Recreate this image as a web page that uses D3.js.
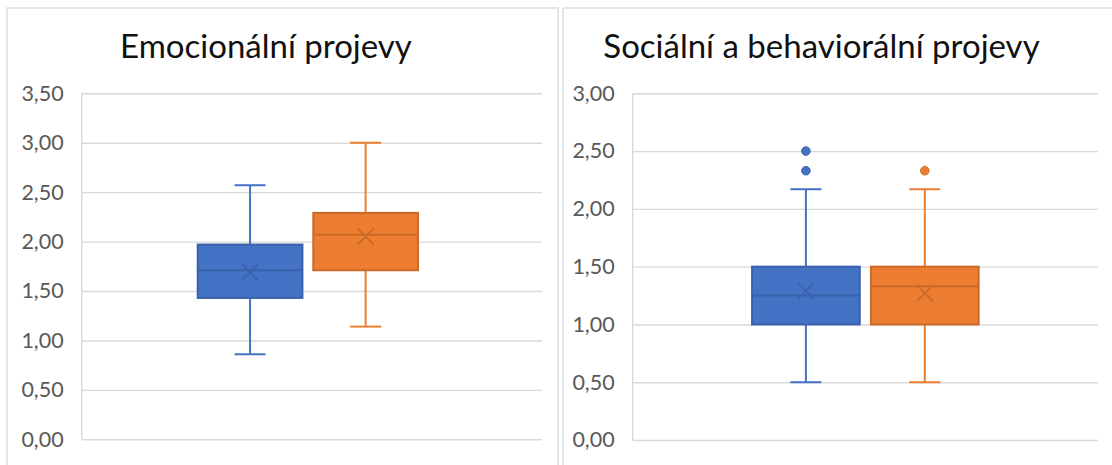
<!DOCTYPE html>
<html>
<head>
<meta charset="utf-8">
<script src="https://cdn.jsdelivr.net/npm/d3@7"></script>
<style>
  html, body { margin: 0; padding: 0; background: #fff; }
  svg { display: block; }
  text { font-family: Lato, "Noto Sans", sans-serif; }
</style>
</head>
<body>
<svg id="chart" width="1112" height="465"></svg>
<script>
// Two groups compared in each panel
const seriesKeys = ["A", "B"];
const seriesFill = ["#4472C4", "#ED7D31"];
const seriesDark = ["#3A62AB", "#C96A29"];

// Panel 1: Emocionální projevy
const emoTitle = "Emocionální projevy";
const emoTicks = [0, 0.5, 1, 1.5, 2, 2.5, 3, 3.5];
const emoMin = [0.86, 1.14];
const emoQ1 = [1.43, 1.71];
const emoMedian = [1.71, 2.07];
const emoQ3 = [1.97, 2.29];
const emoMax = [2.57, 3.00];
const emoMean = [1.69, 2.05];
const emoOutliers = [[], []];

// Panel 2: Sociální a behaviorální projevy
const socTitle = "Sociální a behaviorální projevy";
const socTicks = [0, 0.5, 1, 1.5, 2, 2.5, 3];
const socMin = [0.50, 0.50];
const socQ1 = [1.00, 1.00];
const socMedian = [1.25, 1.33];
const socQ3 = [1.50, 1.50];
const socMax = [2.17, 2.17];
const socMean = [1.29, 1.27];
const socOutliers = [[2.33, 2.50], [2.33]];

const locale = d3.formatLocale({ decimal: ",", thousands: " ", grouping: [3], currency: ["", " Kč"] });
const fmt = locale.format(".2f");

const svg = d3.select("#chart");

function drawPanel(cfg) {
  const g = svg.append("g");

  // chart frame
  g.append("rect")
    .attr("x", cfg.frame[0]).attr("y", cfg.frame[1])
    .attr("width", cfg.frame[2]).attr("height", cfg.frame[3])
    .attr("fill", "#fff").attr("stroke", "#d9d9d9").attr("stroke-width", 1.3);

  g.append("text")
    .attr("x", cfg.titleX).attr("y", cfg.titleY)
    .attr("text-anchor", "middle")
    .attr("font-size", 33)
    .attr("fill", "#111")
    .text(cfg.title);

  const [x0, x1, y0, y1] = cfg.plot;
  const y = d3.scaleLinear().domain([0, d3.max(cfg.ticks)]).range([y1, y0]);

  // gridlines + labels
  const yAxis = d3.axisLeft(y).tickValues(cfg.ticks).tickFormat(fmt)
    .tickSize(-(x1 - x0)).tickPadding(18);
  const ax = g.append("g").attr("transform", `translate(${x0},0)`).call(yAxis);
  ax.select(".domain").remove();
  ax.selectAll(".tick line").attr("stroke", "#d9d9d9").attr("stroke-width", 1.4);
  ax.selectAll(".tick text").attr("fill", "#595959").attr("font-size", 21.5)
    .attr("font-family", "Lato, 'Noto Sans', sans-serif");
  // vertical axis line
  g.append("line").attr("x1", x0).attr("x2", x0).attr("y1", y(d3.max(cfg.ticks))).attr("y2", y(0))
    .attr("stroke", "#d9d9d9").attr("stroke-width", 1.4);

  // category band and series sub-bands
  const xCat = d3.scaleBand().domain([cfg.title]).range([x0, x1 - cfg.bandTrim]).padding(0.345);
  const xSer = d3.scaleBand().domain(seriesKeys).range([0, xCat.bandwidth()])
    .paddingInner(0.094).paddingOuter(0);

  const data = seriesKeys.map((k, i) => ({
    key: k, i,
    min: cfg.min[i], q1: cfg.q1[i], med: cfg.median[i], q3: cfg.q3[i],
    max: cfg.max[i], mean: cfg.mean[i], out: cfg.outliers[i]
  }));

  const capHalf = 15.5;
  const xSize = 8;

  data.forEach(d => {
    const bx = xCat(cfg.title) + xSer(d.key);
    const bw = xSer.bandwidth();
    const cx = bx + bw / 2;
    const s = g.append("g");
    // whiskers
    s.append("line").attr("x1", cx).attr("x2", cx).attr("y1", y(d.max)).attr("y2", y(d.q3))
      .attr("stroke", seriesFill[d.i]).attr("stroke-width", 2);
    s.append("line").attr("x1", cx).attr("x2", cx).attr("y1", y(d.q1)).attr("y2", y(d.min))
      .attr("stroke", seriesFill[d.i]).attr("stroke-width", 2);
    s.append("line").attr("x1", cx - capHalf).attr("x2", cx + capHalf).attr("y1", y(d.max)).attr("y2", y(d.max))
      .attr("stroke", seriesFill[d.i]).attr("stroke-width", 2);
    s.append("line").attr("x1", cx - capHalf).attr("x2", cx + capHalf).attr("y1", y(d.min)).attr("y2", y(d.min))
      .attr("stroke", seriesFill[d.i]).attr("stroke-width", 2);
    // box
    s.append("rect").attr("x", bx).attr("y", y(d.q3)).attr("width", bw).attr("height", y(d.q1) - y(d.q3))
      .attr("fill", seriesFill[d.i]).attr("stroke", seriesDark[d.i]).attr("stroke-width", 2);
    // median
    s.append("line").attr("x1", bx).attr("x2", bx + bw).attr("y1", y(d.med)).attr("y2", y(d.med))
      .attr("stroke", seriesDark[d.i]).attr("stroke-width", 2);
    // mean marker
    const my = y(d.mean);
    s.append("path")
      .attr("d", `M${cx - xSize},${my - xSize}L${cx + xSize},${my + xSize}M${cx - xSize},${my + xSize}L${cx + xSize},${my - xSize}`)
      .attr("stroke", seriesDark[d.i]).attr("stroke-width", 1.8).attr("fill", "none");
    // outliers
    s.selectAll("circle").data(d.out).join("circle")
      .attr("cx", cx).attr("cy", v => y(v)).attr("r", 4.3)
      .attr("fill", seriesFill[d.i]).attr("stroke", seriesDark[d.i]).attr("stroke-width", 1);
  });
}

drawPanel({
  title: emoTitle, ticks: emoTicks,
  min: emoMin, q1: emoQ1, median: emoMedian, q3: emoQ3, max: emoMax, mean: emoMean, outliers: emoOutliers,
  frame: [7, 8, 551, 470], titleX: 266, titleY: 58,
  plot: [81.7, 542, 93.3, 439.3], bandTrim: 8
});

drawPanel({
  title: socTitle, ticks: socTicks,
  min: socMin, q1: socQ1, median: socMedian, q3: socQ3, max: socMax, mean: socMean, outliers: socOutliers,
  frame: [563, 8, 560, 470], titleX: 821.5, titleY: 58,
  plot: [632.7, 1098, 93.3, 440], bandTrim: 0
});
</script>
</body>
</html>
